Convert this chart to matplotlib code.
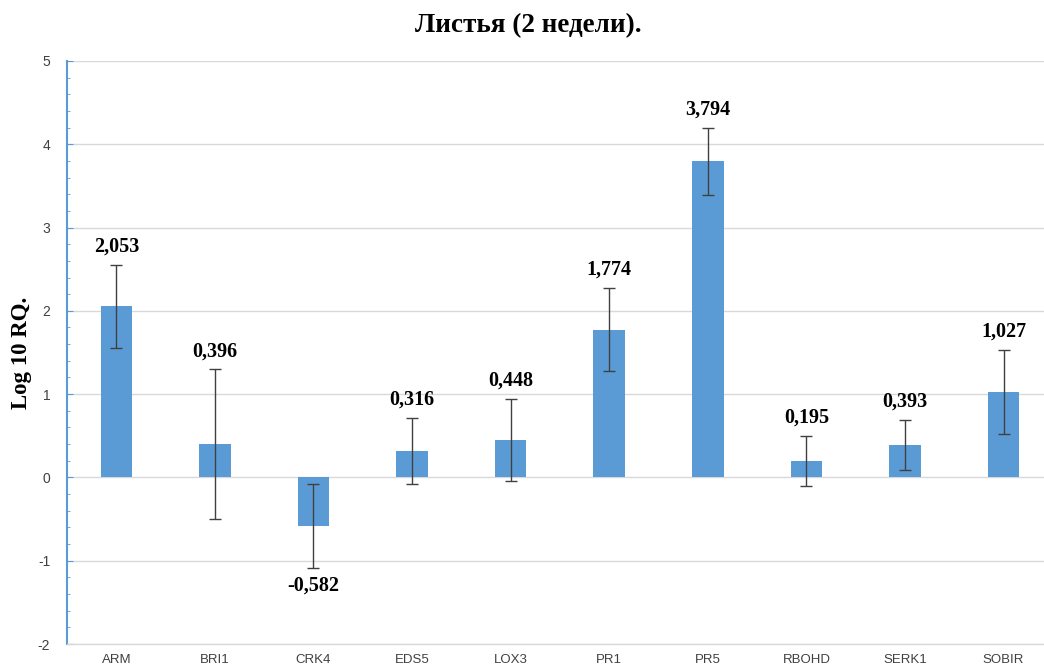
import matplotlib
matplotlib.use("Agg")
import matplotlib.pyplot as plt
from matplotlib.ticker import MultipleLocator

plt.rcParams["axes.unicode_minus"] = False

genes = ["ARM", "BRI1", "CRK4", "EDS5", "LOX3", "PR1", "PR5", "RBOHD", "SERK1", "SOBIR"]
values = [2.053, 0.396, -0.582, 0.316, 0.448, 1.774, 3.794, 0.195, 0.393, 1.027]
errors = [0.50, 0.90, 0.50, 0.40, 0.49, 0.50, 0.40, 0.30, 0.30, 0.50]
labels = ["2,053", "0,396", "-0,582", "0,316", "0,448", "1,774", "3,794", "0,195", "0,393", "1,027"]
title = "Листья (2 недели)."
ylabel = "Log 10 RQ."

fig = plt.figure(figsize=(10.44, 6.71), dpi=100)
ax = fig.add_axes([0.0642, 0.0402, 0.9358, 0.869])

x = list(range(len(genes)))
ax.bar(x, values, width=0.32, color="#5b9bd5", zorder=3)
ax.errorbar(x, values, yerr=errors, fmt="none", ecolor="#404040", elinewidth=1.0,
            capsize=4, capthick=1.0, zorder=4)

for xi, v, e, lab in zip(x, values, errors, labels):
    if v >= 0:
        ax.text(xi, v + e + 0.1, lab, ha="center", va="bottom", fontsize=14.5,
                fontweight="bold", family="Liberation Serif", color="black")
    else:
        ax.text(xi, v - e - 0.1, lab, ha="center", va="top", fontsize=14.5,
                fontweight="bold", family="Liberation Serif", color="black")

ax.set_ylim(-2, 5)
ax.set_xlim(-0.5, 9.41)
ax.yaxis.set_major_locator(MultipleLocator(1))
ax.yaxis.set_minor_locator(MultipleLocator(0.2))
ax.grid(axis="y", which="major", color="#d9d9d9", linewidth=1.0, zorder=0)

ax.set_xticks(x)
ax.set_xticklabels(genes, fontsize=9.5, color="#404040", family="Liberation Sans")
ax.tick_params(axis="x", length=0, pad=7)
ax.tick_params(axis="y", which="major", direction="in", length=4, color="#5b9bd5",
               labelsize=10, labelcolor="#404040", pad=12)
ax.tick_params(axis="y", which="minor", direction="in", length=2.5, color="#5b9bd5")
for t in ax.get_yticklabels():
    t.set_family("Liberation Sans")

for s in ["top", "right"]:
    ax.spines[s].set_visible(False)
ax.spines["left"].set_color("#5b9bd5")
ax.spines["left"].set_linewidth(1.5)
ax.spines["bottom"].set_color("#d9d9d9")
ax.spines["bottom"].set_linewidth(1.0)

ax.set_ylabel(ylabel, fontsize=16.5, fontweight="bold", family="Liberation Serif")
ax.yaxis.set_label_coords(-0.036, 0.5)
fig.text(0.506, 0.962, title, ha="center", va="center", fontsize=19.5,
         fontweight="bold", family="Liberation Serif")

fig.savefig("out.png", dpi=100)
